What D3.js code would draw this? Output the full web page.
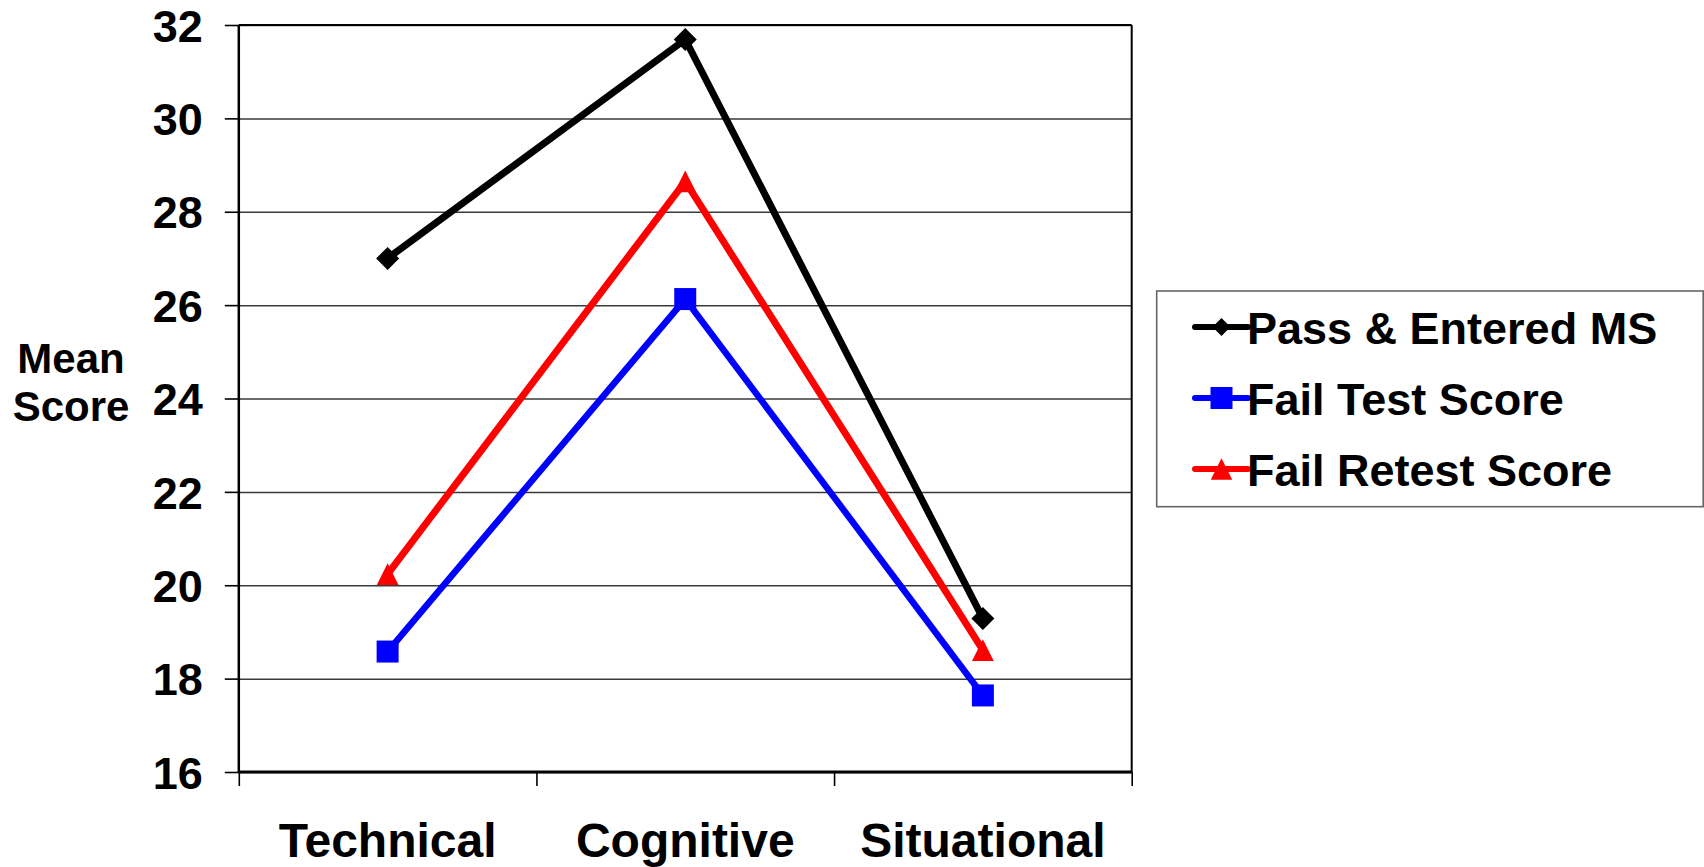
<!DOCTYPE html>
<html>
<head>
<meta charset="utf-8">
<script src="https://cdn.jsdelivr.net/npm/d3@7"></script>
<style>
  html, body { margin: 0; padding: 0; background: #fff; }
  svg { display: block; }
  text { font-family: "Liberation Sans", Arial, sans-serif; font-weight: bold; fill: #000; }
</style>
</head>
<body>
<svg id="chart" width="1704" height="867"></svg>
<script>
// ---- Data ----
const categories = ["Technical", "Cognitive", "Situational"];
const seriesNames = ["Pass & Entered MS", "Fail Test Score", "Fail Retest Score"];
const passEntered = [27.0, 31.69, 19.29];
const failTest = [18.58, 26.13, 17.64];
const failRetest = [20.24, 28.65, 18.61];
const yTicks = [16, 18, 20, 22, 24, 26, 28, 30, 32];
const yLabel = ["Mean", "Score"];

// ---- Styling ----
const colors = ["#000000", "#0000ff", "#ff0000"];
const widths = [7, 6.5, 7];

const svg = d3.select("#chart");
const plot = { left: 238.8, right: 1131.7, top: 25, bottom: 772 };

const x = d3.scaleBand().domain(categories).range([plot.left, plot.right]).padding(0);
const xc = d => x(d) + x.bandwidth() / 2;
const y = d3.scaleLinear().domain([16, 32]).range([plot.bottom, plot.top]);
const xEdges = d3.scaleLinear().domain([0, categories.length]).range([plot.left, plot.right]);

// custom marker shapes
const diamond = { draw(ctx, size) { const r = Math.sqrt(size) / 2; ctx.moveTo(0, -r); ctx.lineTo(r, 0); ctx.lineTo(0, r); ctx.lineTo(-r, 0); ctx.closePath(); } };
const square = { draw(ctx, size) { const r = Math.sqrt(size) / 2; ctx.rect(-r, -r, 2 * r, 2 * r); } };
const triangle = { draw(ctx, size) { const r = Math.sqrt(size) / 2; ctx.moveTo(0, -r); ctx.lineTo(r, r); ctx.lineTo(-r, r); ctx.closePath(); } };
const shapes = [diamond, square, triangle];
const markerSizes = [23 * 23, 22 * 22, 22 * 21.5];

// gridlines
const grid = svg.append("g")
  .attr("transform", `translate(${plot.left},0)`)
  .call(d3.axisLeft(y).tickValues(yTicks).tickSize(-(plot.right - plot.left)).tickFormat(""));
grid.select(".domain").remove();
grid.selectAll(".tick line").attr("stroke", "#3a3a3a").attr("stroke-width", 1.5);

// right border
svg.append("line")
  .attr("x1", plot.right).attr("x2", plot.right)
  .attr("y1", y(32)).attr("y2", y(16))
  .attr("stroke", "#000").attr("stroke-width", 2);
// top border
svg.append("line")
  .attr("x1", plot.left).attr("x2", plot.right)
  .attr("y1", y(32)).attr("y2", y(32))
  .attr("stroke", "#000").attr("stroke-width", 2.2);

// y axis with ticks and labels
const yAxis = svg.append("g")
  .attr("transform", `translate(${plot.left},0)`)
  .call(d3.axisLeft(y).tickValues(yTicks).tickSize(14).tickPadding(22).tickFormat(d3.format("d")));
yAxis.select(".domain").attr("stroke", "#000").attr("stroke-width", 2.5).attr("d", `M0,${plot.top}V${plot.bottom}`);
yAxis.selectAll(".tick line").attr("stroke", "#000").attr("stroke-width", 1.6);
yAxis.selectAll(".tick text")
  .attr("font-size", 45).attr("font-family", "Liberation Sans, Arial, sans-serif")
  .attr("font-weight", "bold").attr("fill", "#000").attr("dy", "0.36em");

// x axis: tick marks at category boundaries
const xTickAxis = svg.append("g")
  .attr("transform", `translate(0,${plot.bottom})`)
  .call(d3.axisBottom(xEdges).tickValues(d3.range(categories.length + 1)).tickSize(14).tickFormat(""));
xTickAxis.select(".domain").attr("stroke", "#000").attr("stroke-width", 3).attr("d", `M${plot.left},0H${plot.right}`);
xTickAxis.selectAll(".tick line").attr("stroke", "#000").attr("stroke-width", 1.6);

// x labels
const xLab = svg.append("g")
  .attr("transform", `translate(0,${plot.bottom})`)
  .call(d3.axisBottom(x).tickSize(0).tickPadding(0));
xLab.select(".domain").remove();
xLab.selectAll(".tick text")
  .attr("font-size", 48).attr("font-family", "Liberation Sans, Arial, sans-serif")
  .attr("font-weight", "bold").attr("fill", "#000")
  .attr("dy", null).attr("y", 85);

// y axis title
const yt = svg.append("text").attr("text-anchor", "middle").attr("font-size", 42);
yLabel.forEach((t, i) => yt.append("tspan").attr("x", 71).attr("y", 373 + i * 48).text(t));

// series
const allSeries = [passEntered, failTest, failRetest];
const line = d3.line().x((d, i) => xc(categories[i])).y(d => y(d));

allSeries.forEach((vals, s) => {
  svg.append("path")
    .attr("d", line(vals))
    .attr("fill", "none")
    .attr("stroke", colors[s])
    .attr("stroke-width", widths[s])
    .attr("stroke-linejoin", "miter");
});
allSeries.forEach((vals, s) => {
  svg.append("g").selectAll("path")
    .data(vals)
    .join("path")
    .attr("transform", (d, i) => `translate(${xc(categories[i])},${y(d)})`)
    .attr("d", d3.symbol().type(shapes[s]).size(markerSizes[s]))
    .attr("fill", colors[s]);
});

// legend
const lg = svg.append("g");
lg.append("rect")
  .attr("x", 1156.7).attr("y", 291).attr("width", 546.5).attr("height", 215.7)
  .attr("fill", "#fff").attr("stroke", "#666").attr("stroke-width", 1.6);
const legendMarkerSizes = [18 * 18, 22 * 22, 22 * 21];
seriesNames.forEach((name, s) => {
  const cy = 327 + s * 71;
  lg.append("line")
    .attr("x1", 1195).attr("x2", 1248).attr("y1", cy).attr("y2", cy)
    .attr("stroke", colors[s]).attr("stroke-width", 6).attr("stroke-linecap", "round");
  lg.append("path")
    .attr("transform", `translate(1221.5,${cy})`)
    .attr("d", d3.symbol().type(shapes[s]).size(legendMarkerSizes[s]))
    .attr("fill", colors[s]);
  lg.append("text")
    .attr("x", 1247).attr("y", cy + 16.5)
    .attr("font-size", 45)
    .text(name);
});
</script>
</body>
</html>
